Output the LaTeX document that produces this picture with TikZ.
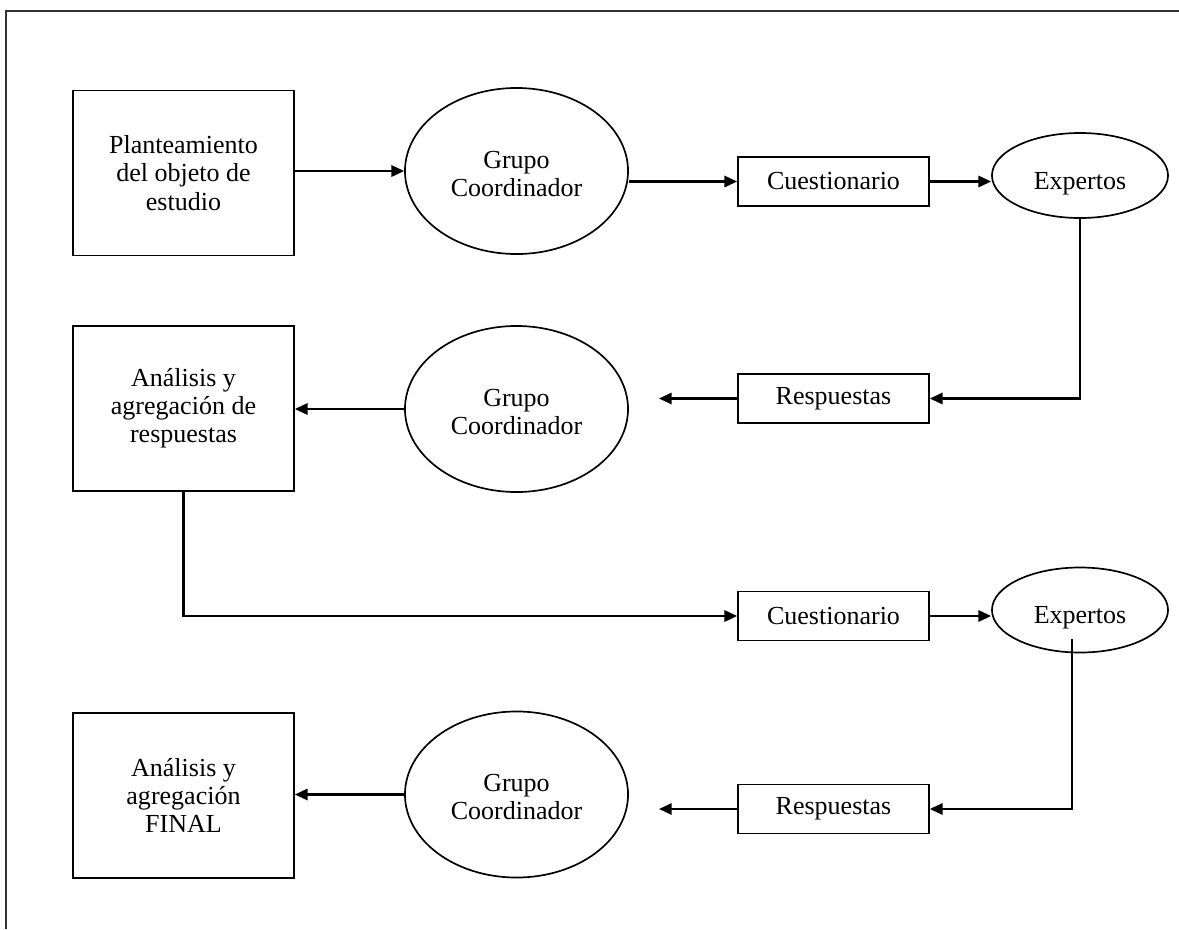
\documentclass[tikz,border=0pt]{standalone}
\usepackage{fontspec}
\setmainfont{Liberation Serif}
\usetikzlibrary{shapes.geometric,arrows.meta}

\newcommand{\lowered}[2]{\raisebox{-#1}[\height][\depth]{#2}}

\tikzset{
  stage/.style={draw, line width=1.2pt, rectangle, align=center,
    minimum width=5.525cm, minimum height=4.125cm, inner sep=0pt},
  form/.style={draw, line width=1.2pt, rectangle, align=center,
    minimum width=4.775cm, minimum height=1.225cm, inner sep=0pt},
  group/.style={draw, line width=1.2pt, ellipse, align=center,
    minimum width=5.575cm, minimum height=4.15cm, inner sep=0pt},
  panel/.style={draw, line width=1.2pt, ellipse, align=center,
    minimum width=4.4cm, minimum height=2.125cm, inner sep=0pt},
  flow/.style={line width=1.6pt, ->},
}

\begin{document}
\begin{tikzpicture}[x=0.025cm, y=-0.025cm,
    >={Triangle[length=9pt,width=8pt]},
    font=\fontsize{18.5}{20}\selectfont]
  \useasboundingbox (0,0) rectangle (1179,929);

  % frame
  \draw [line width=1pt, black!80]
    (6,929)
    -- (6,11)
    -- (1179,11)
  ;

  % first round
  \node [stage] (plan) at (183.5,173) {Planteamiento\\del objeto de\\estudio};
  \node [group] (group A) at (516.5,171) {\lowered{0.07cm}{Grupo}\\\lowered{0.07cm}{Coordinador}};
  \node [form] (survey A) at (833.5,181.5) {Cuestionario};
  \node [panel] (experts A) at (1080,175.5) {\lowered{0.2cm}{Expertos}};
  \node [form] (answers A) at (833.5,398.5) {Respuestas};
  \node [group] (group B) at (516.5,409) {\lowered{0.07cm}{Grupo}\\\lowered{0.07cm}{Coordinador}};
  \node [stage] (analysis) at (183.5,408.5) {Análisis y\\agregación de\\respuestas};

  % second round
  \node [form] (survey B) at (833.5,616) {Cuestionario};
  \node [panel] (experts B) at (1080,610) {\lowered{0.2cm}{Expertos}};
  \node [form] (answers B) at (833.5,809) {Respuestas};
  \node [group] (group C) at (516.5,794.5) {\lowered{0.07cm}{Grupo}\\\lowered{0.07cm}{Coordinador}};
  \node [stage] (final) at (183.5,795.5) {Análisis y\\agregación\\FINAL};

  \coordinate (answers A tip) at (659,398.5);
  \coordinate (experts B tail) at (1072,639);
  \coordinate (answers B tip) at (659,809);

  \draw [flow]
    (plan.east |- group A.west)
    -- (group A.west)
  ;
  \draw [flow]
    (group A.east |- survey A.west)
    -- (survey A.west)
  ;
  \draw [flow]
    (survey A.east)
    -- (survey A.east -| experts A.west)
  ;
  \draw [flow]
    (experts A.south)
    |- (answers A.east)
  ;
  \draw [flow]
    (answers A.west)
    -- (answers A tip)
  ;
  \draw [flow]
    (group B.west)
    -- (group B.west -| analysis.east)
  ;
  \draw [flow]
    (analysis.south)
    |- (survey B.west)
  ;
  \draw [flow]
    (survey B.east)
    -- (survey B.east -| experts B.west)
  ;
  \draw [flow]
    (experts B tail)
    |- (answers B.east)
  ;
  \draw [flow]
    (answers B.west)
    -- (answers B tip)
  ;
  \draw [flow]
    (group C.west)
    -- (group C.west -| final.east)
  ;
\end{tikzpicture}
\end{document}
